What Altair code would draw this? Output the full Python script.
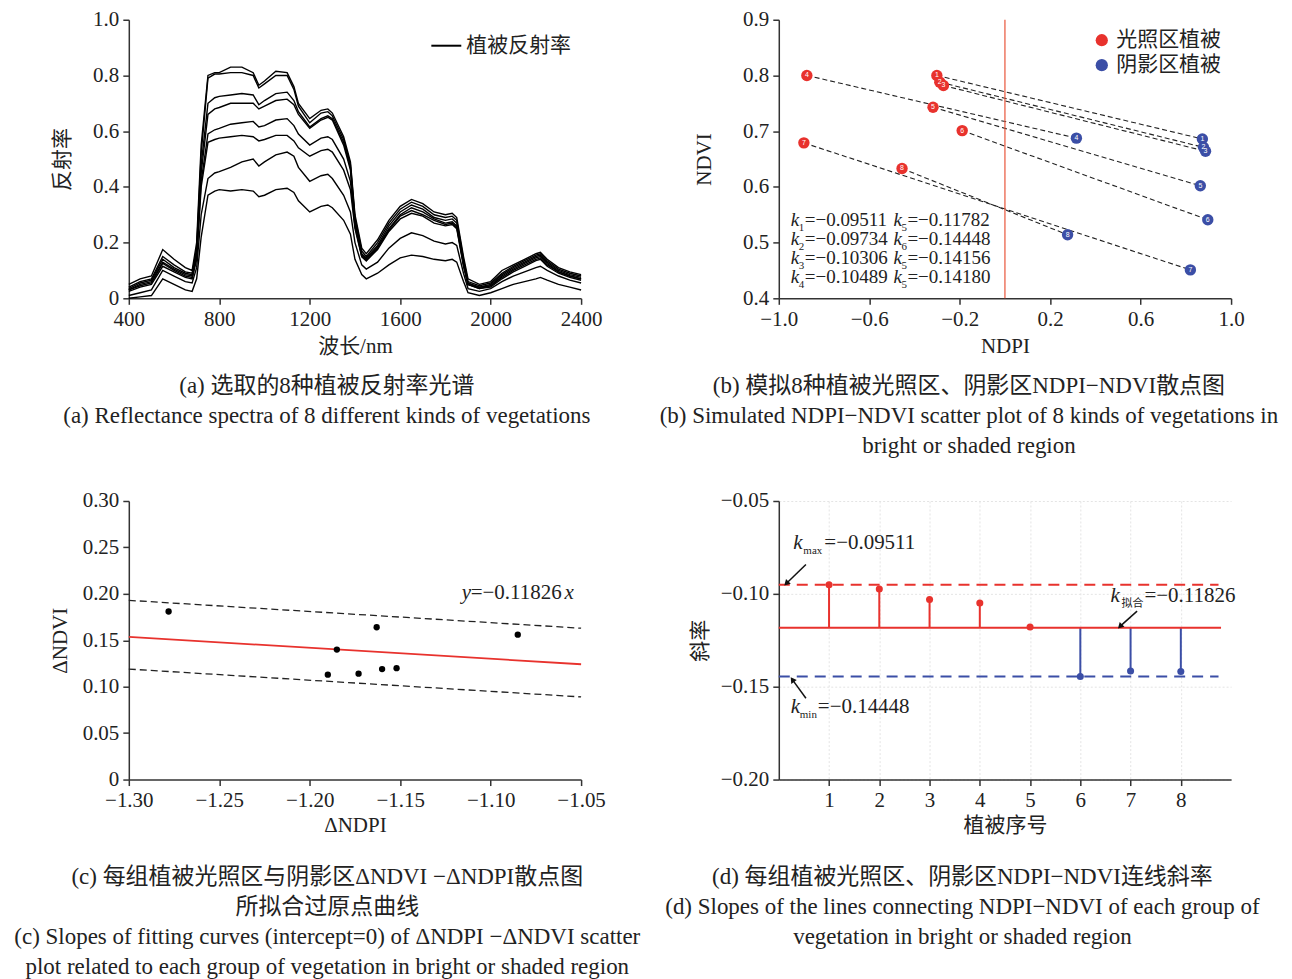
import altair as alt
import pandas as pd

SERIF = "Liberation Serif"
MIX = "'Liberation Serif', 'Noto Sans CJK SC'"
RED = "#e8322d"
BLUE = "#3b4ea6"

# ---------------- (a) reflectance spectra ----------------
wavelength = [400, 450, 500, 550, 600, 650, 680, 700, 720, 750, 780, 800, 850, 900, 950, 975,
              1000, 1050, 1100, 1130, 1150, 1200, 1250, 1280, 1300, 1350, 1380, 1400, 1430, 1450,
              1500, 1550, 1600, 1650, 1700, 1750, 1800, 1830, 1850, 1880, 1900, 1950, 2000, 2050,
              2100, 2150, 2200, 2220, 2250, 2300, 2350, 2400]
spec1 = [0.05, 0.07, 0.08, 0.175, 0.14, 0.11, 0.10, 0.20, 0.55, 0.80, 0.81, 0.81, 0.83, 0.83, 0.81, 0.765,
         0.78, 0.815, 0.81, 0.76, 0.70, 0.645, 0.675, 0.68, 0.665, 0.58, 0.49, 0.30, 0.18, 0.16,
         0.21, 0.28, 0.33, 0.355, 0.34, 0.31, 0.30, 0.305, 0.29, 0.15, 0.07, 0.05, 0.06, 0.10,
         0.12, 0.14, 0.16, 0.165, 0.14, 0.11, 0.095, 0.085]
spec2 = [0.04, 0.06, 0.07, 0.15, 0.12, 0.095, 0.09, 0.18, 0.52, 0.79, 0.805, 0.805, 0.81, 0.81, 0.80, 0.755,
         0.77, 0.80, 0.80, 0.75, 0.69, 0.63, 0.665, 0.67, 0.655, 0.57, 0.48, 0.29, 0.17, 0.15,
         0.20, 0.27, 0.32, 0.345, 0.33, 0.30, 0.29, 0.295, 0.28, 0.14, 0.06, 0.045, 0.055, 0.09,
         0.115, 0.135, 0.155, 0.16, 0.135, 0.105, 0.09, 0.08]
spec3 = [0.035, 0.055, 0.065, 0.14, 0.11, 0.09, 0.085, 0.17, 0.48, 0.70, 0.72, 0.725, 0.73, 0.735, 0.73, 0.695,
         0.71, 0.735, 0.74, 0.71, 0.67, 0.615, 0.645, 0.655, 0.645, 0.56, 0.47, 0.28, 0.16, 0.145,
         0.19, 0.26, 0.31, 0.335, 0.32, 0.29, 0.28, 0.285, 0.27, 0.13, 0.055, 0.04, 0.05, 0.085,
         0.11, 0.13, 0.15, 0.155, 0.13, 0.10, 0.085, 0.075]
spec4 = [0.03, 0.05, 0.06, 0.13, 0.105, 0.085, 0.08, 0.16, 0.45, 0.66, 0.68, 0.685, 0.70, 0.70, 0.70, 0.68,
         0.69, 0.71, 0.715, 0.695, 0.66, 0.61, 0.64, 0.65, 0.64, 0.55, 0.46, 0.27, 0.155, 0.14,
         0.185, 0.25, 0.30, 0.325, 0.31, 0.285, 0.27, 0.275, 0.26, 0.125, 0.05, 0.04, 0.045, 0.08,
         0.105, 0.125, 0.145, 0.15, 0.125, 0.095, 0.08, 0.07]
spec5 = [0.03, 0.045, 0.055, 0.125, 0.10, 0.08, 0.075, 0.15, 0.42, 0.59, 0.605, 0.61, 0.625, 0.63, 0.635, 0.615,
         0.62, 0.64, 0.645, 0.62, 0.59, 0.55, 0.575, 0.58, 0.57, 0.50, 0.42, 0.26, 0.15, 0.135,
         0.18, 0.245, 0.295, 0.315, 0.30, 0.28, 0.265, 0.27, 0.255, 0.12, 0.05, 0.035, 0.045, 0.075,
         0.10, 0.12, 0.14, 0.145, 0.12, 0.095, 0.08, 0.07]
spec6 = [0.025, 0.04, 0.05, 0.115, 0.095, 0.075, 0.07, 0.14, 0.40, 0.56, 0.57, 0.575, 0.58, 0.585, 0.58, 0.565,
         0.57, 0.585, 0.585, 0.565, 0.54, 0.51, 0.53, 0.535, 0.525, 0.46, 0.39, 0.25, 0.15, 0.135,
         0.175, 0.24, 0.285, 0.305, 0.295, 0.27, 0.26, 0.265, 0.25, 0.115, 0.05, 0.035, 0.04, 0.07,
         0.095, 0.115, 0.135, 0.14, 0.115, 0.09, 0.075, 0.065]
spec7 = [0.01, 0.02, 0.03, 0.10, 0.08, 0.06, 0.055, 0.11, 0.30, 0.43, 0.45, 0.455, 0.47, 0.49, 0.50, 0.475,
         0.49, 0.515, 0.525, 0.51, 0.47, 0.42, 0.44, 0.445, 0.43, 0.37, 0.31, 0.20, 0.12, 0.105,
         0.13, 0.18, 0.215, 0.235, 0.225, 0.205, 0.195, 0.20, 0.19, 0.09, 0.035, 0.025, 0.035, 0.06,
         0.08, 0.095, 0.11, 0.115, 0.10, 0.08, 0.065, 0.055]
spec8 = [0.0, 0.005, 0.01, 0.07, 0.05, 0.03, 0.025, 0.07, 0.22, 0.37, 0.385, 0.39, 0.385, 0.39, 0.385, 0.365,
         0.37, 0.39, 0.395, 0.38, 0.35, 0.31, 0.33, 0.335, 0.325, 0.28, 0.23, 0.14, 0.085, 0.07,
         0.09, 0.12, 0.145, 0.155, 0.15, 0.14, 0.135, 0.14, 0.13, 0.06, 0.02, 0.01, 0.02, 0.035,
         0.05, 0.06, 0.07, 0.075, 0.065, 0.05, 0.04, 0.03]
spectra = [spec1, spec2, spec3, spec4, spec5, spec6, spec7, spec8]
legend_a = "植被反射率"

# ---------------- (b) NDPI-NDVI scatter ----------------
veg_ids = [1, 2, 3, 4, 5, 6, 7, 8]
bright_ndpi = [-0.301, -0.288, -0.272, -0.876, -0.318, -0.189, -0.889, -0.455]
bright_ndvi = [0.800, 0.788, 0.782, 0.800, 0.743, 0.701, 0.679, 0.633]
shade_ndpi = [0.873, 0.878, 0.887, 0.316, 0.864, 0.897, 0.820, 0.277]
shade_ndvi = [0.686, 0.671, 0.664, 0.6875, 0.602, 0.541, 0.451, 0.514]
regions = ["光照区植被", "阴影区植被"]
k_subs = ["1", "2", "3", "4", "5", "6", "5", "5"]
k_vals = ["=−0.09511", "=−0.09734", "=−0.10306", "=−0.10489",
          "=−0.11782", "=−0.14448", "=−0.14156", "=−0.14180"]
k_text_x = [-0.947, -0.947, -0.947, -0.947, -0.493, -0.493, -0.493, -0.493]
k_text_y = [0.540, 0.506, 0.472, 0.439, 0.540, 0.506, 0.472, 0.439]

# ---------------- (c) dNDVI-dNDPI ----------------
d_ndpi = [-1.278, -1.185, -1.163, -1.190, -1.173, -1.160, -1.152, -1.085]
d_ndvi = [0.181, 0.140, 0.164, 0.113, 0.114, 0.119, 0.120, 0.156]
band_x = [-1.30, -1.05]
fit_y = [0.1537, 0.1242]
upper_y = [0.193, 0.163]
lower_y = [0.119, 0.089]

# ---------------- (d) slopes ----------------
slopes = [-0.09511, -0.09734, -0.10306, -0.10489, -0.11782, -0.14448, -0.14156, -0.14180]
slope_group = ["bright"] * 5 + ["shade"] * 3
k_fit = -0.11826
k_max = -0.09511
k_min = -0.14448

W, H = 453, 279
CAP = 23

def minus(fmt):
    return "replace(format(datum.value, '%s'), '-', '−')" % fmt

def caption(lines, offset):
    return alt.TitleParams(text=lines, orient="bottom", anchor="middle", frame="bounds", offset=offset,
                           font=MIX, fontSize=CAP, fontWeight="normal", color="#222", lineHeight=30)

# ===== panel a =====
rows = []
for i, s in enumerate(spectra):
    for w, v in zip(wavelength, s):
        rows.append({"wl": w, "r": v, "curve": i + 1, "lab": legend_a})
df_a = pd.DataFrame(rows)

panel_a = alt.Chart(df_a).mark_line(strokeWidth=1.4).encode(
    x=alt.X("wl:Q", scale=alt.Scale(domain=[400, 2400], nice=False, zero=False),
            axis=alt.Axis(values=list(range(400, 2401, 400)), format="d", title="波长/nm", titlePadding=6)),
    y=alt.Y("r:Q", scale=alt.Scale(domain=[0, 1], nice=False),
            axis=alt.Axis(values=[0, 0.2, 0.4, 0.6, 0.8, 1.0],
                          labelExpr="datum.value == 0 ? '0' : format(datum.value, '.1f')",
                          title="反射率", titlePadding=20)),
    detail="curve:N",
    color=alt.Color("lab:N", scale=alt.Scale(range=["black"]),
                    legend=alt.Legend(title=None, orient="top-right", symbolType="stroke",
                                      symbolSize=900, symbolStrokeWidth=2, symbolStrokeColor="black",
                                      labelFont=MIX, labelFontSize=21, offset=10)),
).properties(width=W, height=H, title=caption(
    ["(a) 选取的8种植被反射率光谱", "(a) Reflectance spectra of 8 different kinds of vegetations"], 19))

# ===== panel b =====
pts = []
for i in range(8):
    pts.append({"id": veg_ids[i], "x": bright_ndpi[i], "y": bright_ndvi[i], "region": regions[0]})
    pts.append({"id": veg_ids[i], "x": shade_ndpi[i], "y": shade_ndvi[i], "region": regions[1]})
df_b = pd.DataFrame(pts)
xb = alt.X("x:Q", scale=alt.Scale(domain=[-1, 1], nice=False, zero=False),
           axis=alt.Axis(values=[-1.0, -0.6, -0.2, 0.2, 0.6, 1.0], labelExpr=minus(".1f"), title="NDPI",
                         titlePadding=6))
yb = alt.Y("y:Q", scale=alt.Scale(domain=[0.4, 0.9], nice=False, zero=False),
           axis=alt.Axis(values=[0.4, 0.5, 0.6, 0.7, 0.8, 0.9], format=".1f", title="NDVI", titlePadding=28))
b_lines = alt.Chart(df_b).mark_line(color="#222", strokeWidth=1.1, strokeDash=[5, 3]).encode(
    x=xb, y=yb, detail="id:N")
b_vline = alt.Chart(pd.DataFrame({"x": [0]})).mark_rule(color="#e8553a", strokeWidth=1.2).encode(x="x:Q")
b_pts = alt.Chart(df_b).mark_circle(size=130, opacity=1).encode(
    x=xb, y=yb,
    color=alt.Color("region:N", scale=alt.Scale(domain=regions, range=[RED, BLUE]),
                    legend=alt.Legend(title=None, orient="top-right", symbolType="circle", symbolSize=150,
                                      labelFont=MIX, labelFontSize=21, offset=10, rowPadding=3)))
b_num = alt.Chart(df_b).mark_text(color="white", fontSize=7, font="Liberation Sans").encode(
    x="x:Q", y="y:Q", text="id:N")
df_k = pd.DataFrame({"x": k_text_x, "y": k_text_y, "sub": k_subs, "val": k_vals})
b_k = alt.Chart(df_k).mark_text(align="left", baseline="middle", fontSize=19, fontStyle="italic",
                                font=SERIF, color="#222").encode(x="x:Q", y="y:Q", text=alt.value("k"))
b_ksub = alt.Chart(df_k).mark_text(align="left", baseline="middle", fontSize=11, dx=8, dy=8,
                                   font=SERIF, color="#222").encode(x="x:Q", y="y:Q", text="sub:N")
b_kval = alt.Chart(df_k).mark_text(align="left", baseline="middle", fontSize=19, dx=14,
                                   font=SERIF, color="#222").encode(x="x:Q", y="y:Q", text="val:N")
panel_b = alt.layer(b_lines, b_vline, b_pts, b_num, b_k, b_ksub, b_kval).properties(
    width=W, height=H, title=caption(
        ["(b) 模拟8种植被光照区、阴影区NDPI−NDVI散点图",
         "(b) Simulated NDPI−NDVI scatter plot of 8 kinds of vegetations in",
         "bright or shaded region"], 19))

# ===== panel c =====
df_c = pd.DataFrame({"x": d_ndpi, "y": d_ndvi})
xc = alt.X("x:Q", scale=alt.Scale(domain=[-1.30, -1.05], nice=False, zero=False),
           axis=alt.Axis(values=[-1.30, -1.25, -1.20, -1.15, -1.10, -1.05], labelExpr=minus(".2f"),
                         title="ΔNDPI", titlePadding=4))
yc = alt.Y("y:Q", scale=alt.Scale(domain=[0, 0.30], nice=False),
           axis=alt.Axis(values=[0, 0.05, 0.10, 0.15, 0.20, 0.25, 0.30],
                         labelExpr="datum.value == 0 ? '0' : format(datum.value, '.2f')",
                         title="ΔNDVI", titlePadding=12))
band_rows = []
for xx, u, l in zip(band_x, upper_y, lower_y):
    band_rows.append({"x": xx, "y": u, "b": "upper"})
    band_rows.append({"x": xx, "y": l, "b": "lower"})
df_band = pd.DataFrame(band_rows)
df_fit = pd.DataFrame({"x": band_x, "y": fit_y})
c_band = alt.Chart(df_band).mark_line(color="#222", strokeWidth=1.3, strokeDash=[7, 4]).encode(
    x=xc, y=yc, detail="b:N")
c_fit = alt.Chart(df_fit).mark_line(color=RED, strokeWidth=1.8).encode(x=xc, y=yc)
c_pts = alt.Chart(df_c).mark_circle(size=40, color="black", opacity=1).encode(x=xc, y=yc)
df_eq = pd.DataFrame({"x": [-1.116], "y": [0.2014]})
c_eq1 = alt.Chart(df_eq).mark_text(align="left", baseline="middle", fontSize=21, fontStyle="italic",
                                   font=SERIF, color="#222").encode(x="x:Q", y="y:Q", text=alt.value("y"))
c_eq2 = alt.Chart(df_eq).mark_text(align="left", baseline="middle", fontSize=21, dx=9,
                                   font=SERIF, color="#222").encode(x="x:Q", y="y:Q", text=alt.value("=−0.11826"))
c_eq3 = alt.Chart(df_eq).mark_text(align="left", baseline="middle", fontSize=21, dx=103, fontStyle="italic",
                                   font=SERIF, color="#222").encode(x="x:Q", y="y:Q", text=alt.value("x"))
panel_c = alt.layer(c_band, c_fit, c_pts, c_eq1, c_eq2, c_eq3).properties(
    width=W, height=H, title=caption(
        ["(c) 每组植被光照区与阴影区ΔNDVI −ΔNDPI散点图",
         "所拟合过原点曲线",
         "(c) Slopes of fitting curves (intercept=0) of ΔNDPI −ΔNDVI scatter",
         "plot related to each group of vegetation in bright or shaded region"], 31))

# ===== panel d =====
df_d = pd.DataFrame({"id": veg_ids, "k": slopes, "grp": slope_group, "base": [k_fit] * 8})
xd = alt.X("id:Q", scale=alt.Scale(domain=[0, 9], nice=False, zero=False),
           axis=alt.Axis(values=veg_ids, format="d", title="植被序号", titlePadding=4,
                         grid=True, gridColor="#e4e4e4", gridDash=[2, 2], gridWidth=1))
yd = alt.Y("k:Q", scale=alt.Scale(domain=[-0.20, -0.05], nice=False, zero=False),
           axis=alt.Axis(values=[-0.20, -0.15, -0.10, -0.05], labelExpr=minus(".2f"), title="斜率",
                         titlePadding=10, grid=True, gridColor="#e4e4e4", gridDash=[2, 2], gridWidth=1))
dcol = alt.Color("grp:N", scale=alt.Scale(domain=["bright", "shade"], range=[RED, BLUE]), legend=None)
d_stem = alt.Chart(df_d).mark_rule(strokeWidth=2).encode(x=xd, y=yd, y2="base:Q", color=dcol)
d_pts = alt.Chart(df_d).mark_circle(size=50, opacity=1).encode(x=xd, y=yd, color=dcol)
df_h = pd.DataFrame({"x": [0.0, 0.0, 0.0], "x2": [8.8, 8.75, 8.75], "k": [k_fit, k_max, k_min],
                     "kind": ["fit", "max", "min"]})
d_fit = alt.Chart(df_h[df_h.kind == "fit"]).mark_rule(color=RED, strokeWidth=2).encode(
    x="x:Q", x2="x2:Q", y="k:Q")
d_max = alt.Chart(df_h[df_h.kind == "max"]).mark_rule(color=RED, strokeWidth=2, strokeDash=[11, 7]).encode(
    x="x:Q", x2="x2:Q", y="k:Q")
d_min = alt.Chart(df_h[df_h.kind == "min"]).mark_rule(color=BLUE, strokeWidth=2, strokeDash=[11, 7]).encode(
    x="x:Q", x2="x2:Q", y="k:Q")
ann_x = [0.29, 6.60, 0.24]
ann_y = [-0.0724, -0.1013, -0.161]
ann_sub = ["max", "拟合", "min"]
ann_val = ["=−0.09511", "=−0.11826", "=−0.14448"]
ann_subdx = [10, 11, 9]
ann_valdx = [31, 34, 27]
d_texts = []
for i in range(3):
    dfi = pd.DataFrame({"x": [ann_x[i]], "y": [ann_y[i]]})
    d_texts.append(alt.Chart(dfi).mark_text(align="left", baseline="middle", fontSize=21, fontStyle="italic",
                                            font=SERIF, color="#222").encode(x="x:Q", y="y:Q", text=alt.value("k")))
    d_texts.append(alt.Chart(dfi).mark_text(align="left", baseline="middle", fontSize=11, dx=ann_subdx[i], dy=8,
                                            font=MIX, color="#222").encode(x="x:Q", y="y:Q", text=alt.value(ann_sub[i])))
    d_texts.append(alt.Chart(dfi).mark_text(align="left", baseline="middle", fontSize=21, dx=ann_valdx[i],
                                            font=SERIF, color="#222").encode(x="x:Q", y="y:Q", text=alt.value(ann_val[i])))
df_arrow = pd.DataFrame({"x": [0.54, 7.13, 0.54], "y": [-0.0842, -0.1093, -0.1562],
                         "x2": [0.15, 6.79, 0.27], "y2": [-0.0944, -0.1175, -0.1462],
                         "ang": [225, 225, 325]})
d_arrow = alt.Chart(df_arrow).mark_rule(color="#111", strokeWidth=1.5).encode(
    x="x:Q", y="y:Q", x2="x2:Q", y2="y2:Q")
d_head = alt.Chart(df_arrow).mark_point(shape="triangle-up", filled=True, size=45, color="#111", opacity=1).encode(
    x="x2:Q", y="y2:Q", angle=alt.Angle("ang:Q", scale=None))
panel_d = alt.layer(d_stem, d_fit, d_max, d_min, d_pts, d_arrow, d_head, *d_texts).properties(
    width=W, height=H, title=caption(
        ["(d) 每组植被光照区、阴影区NDPI−NDVI连线斜率",
         "(d) Slopes of the lines connecting NDPI−NDVI of each group of",
         "vegetation in bright or shaded region"], 31))

chart = alt.concat(panel_a, panel_b, panel_c, panel_d, columns=2,
                   spacing=alt.RowColnumber(column=198, row=203), bounds="flush").resolve_scale(
    color="independent").resolve_legend(color="independent").properties(
    padding={"left": 6, "top": 0, "right": 5, "bottom": 5}).configure(
    font=SERIF).configure_view(stroke=None).configure_axis(
    domainColor="#333", domainWidth=1.5, tickColor="#333", tickWidth=1.5, tickSize=6,
    labelFont=SERIF, labelFontSize=21, labelColor="#222", labelPadding=4, labelFlush=False,
    labelOverlap=False, labelBound=False, titleFont=MIX, titleFontSize=21, titleFontWeight="normal",
    titleColor="#222", grid=False).configure_legend(labelColor="#222", padding=0)

chart.save("out.html", embed_options={"renderer": "svg", "actions": False})
